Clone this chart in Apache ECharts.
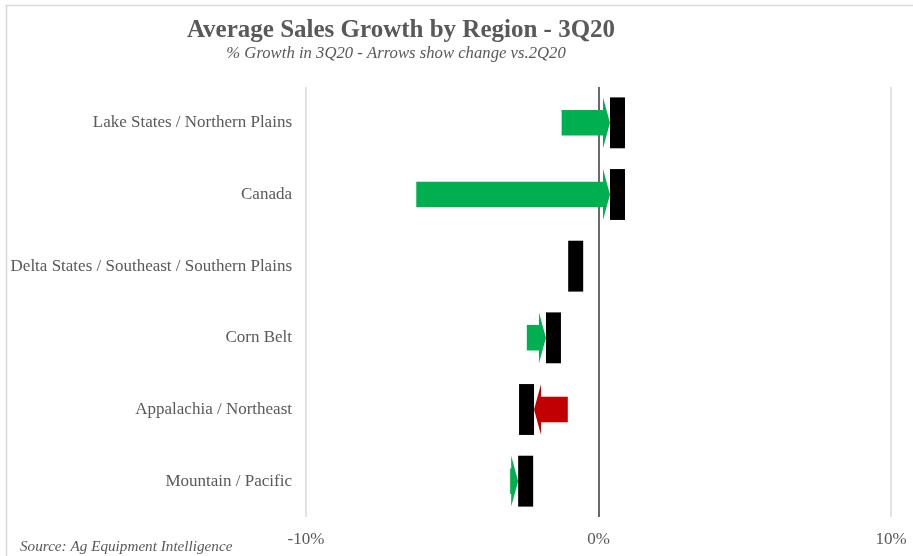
<!DOCTYPE html>
<html>
<head>
<meta charset="utf-8">
<script src="https://cdn.jsdelivr.net/npm/echarts@6/dist/echarts.min.js"></script>
<style>
  html, body { margin: 0; padding: 0; background: #ffffff; }
  #chart { width: 913px; height: 556px; }
</style>
</head>
<body>
<div id="chart"></div>
<script>
// Regions, top to bottom
const regions = [
  'Lake States / Northern Plains',
  'Canada',
  'Delta States / Southeast / Southern Plains',
  'Corn Belt',
  'Appalachia / Northeast',
  'Mountain / Pacific'
];
// Average sales growth, % (2Q20 = arrow tail, 3Q20 = black marker)
const growth2Q20 = [-1.26, -6.23, -0.78, -2.45, -1.05, -3.02];
const growth3Q20 = [0.65, 0.65, -0.78, -1.54, -2.46, -2.49];
// Value axis ticks
const axisMin = -10;
const axisMax = 10;
const axisStep = 10;

const SERIF = "'Liberation Serif', 'Times New Roman', serif";
const TEXT = '#595959';
const UP = '#00b050';
const DOWN = '#c00000';

const chart = echarts.init(document.getElementById('chart'), null, { renderer: 'canvas' });

// One row: arrow from the 2Q20 value towards the 3Q20 marker, then the marker itself
function renderRow(params, api) {
  const idx = api.value(0);
  const prev = api.value(1);
  const curr = api.value(2);
  const y = api.coord([0, idx])[1];
  const band = api.size([0, 1])[1];
  const xPrev = api.coord([prev, idx])[0];
  const xCurr = api.coord([curr, idx])[0];
  const markW = 15;
  const markH = band * 0.71;
  const bodyH = band * 0.355;
  const headLen = 7;
  const children = [];
  if (Math.abs(xCurr - xPrev) > 0.5) {
    const dir = xCurr > xPrev ? 1 : -1;
    const tip = xCurr - dir * markW / 2;
    let base = tip - dir * headLen;
    if ((base - xPrev) * dir < 0) base = xPrev;
    children.push({
      type: 'polygon',
      shape: {
        points: [
          [xPrev, y - bodyH / 2],
          [base, y - bodyH / 2],
          [base, y - markH / 2],
          [tip, y],
          [base, y + markH / 2],
          [base, y + bodyH / 2],
          [xPrev, y + bodyH / 2]
        ]
      },
      style: { fill: dir > 0 ? UP : DOWN }
    });
  }
  children.push({
    type: 'rect',
    shape: { x: xCurr - markW / 2, y: y - markH / 2, width: markW, height: markH },
    style: { fill: '#000000' }
  });
  return { type: 'group', children: children };
}

const rows = regions.map((r, i) => [i, growth2Q20[i], growth3Q20[i]]);

chart.setOption({
  backgroundColor: '#ffffff',
  animation: false,
  grid: { left: 306, right: 22, top: 87, bottom: 39, containLabel: false },
  xAxis: {
    type: 'value',
    min: axisMin,
    max: axisMax,
    interval: axisStep,
    axisLine: { show: false },
    axisTick: { show: false },
    axisLabel: {
      formatter: '{value}%',
      color: TEXT,
      fontFamily: SERIF,
      fontSize: 17,
      margin: 14
    },
    splitLine: { show: true, lineStyle: { color: '#d9d9d9', width: 1.5 } }
  },
  yAxis: {
    type: 'category',
    data: regions,
    inverse: true,
    axisLine: { show: false },
    axisTick: { show: false },
    axisLabel: {
      color: TEXT,
      fontFamily: SERIF,
      fontSize: 17,
      margin: 14,
      padding: [3, 0, 0, 0]
    },
    splitLine: { show: false }
  },
  series: [
    {
      type: 'custom',
      renderItem: renderRow,
      encode: { x: [1, 2], y: 0 },
      data: rows,
      z: 3,
      markLine: {
        silent: true,
        symbol: 'none',
        label: { show: false },
        lineStyle: { color: '#404040', width: 1.5, type: 'solid' },
        data: [{ xAxis: 0 }],
        z: 2
      }
    }
  ],
  graphic: [
    {
      type: 'polyline',
      shape: { points: [[6.5, 600], [6.5, 5.5], [1000, 5.5]] },
      style: { stroke: '#d9d9d9', lineWidth: 1.5, fill: null },
      silent: true
    },
    {
      type: 'text',
      x: 401, y: 31,
      style: {
        text: 'Average Sales Growth by Region - 3Q20',
        fill: TEXT,
        font: "bold 25px " + SERIF,
        textAlign: 'center',
        textVerticalAlign: 'middle'
      }
    },
    {
      type: 'text',
      x: 396, y: 54,
      style: {
        text: '% Growth in 3Q20 - Arrows show change vs.2Q20',
        fill: TEXT,
        font: "italic 16.7px " + SERIF,
        textAlign: 'center',
        textVerticalAlign: 'middle'
      }
    },
    {
      type: 'text',
      x: 20, y: 547,
      style: {
        text: 'Source: Ag Equipment Intelligence',
        fill: TEXT,
        font: "italic 15.2px " + SERIF,
        textAlign: 'left',
        textVerticalAlign: 'middle'
      }
    }
  ]
});
</script>
</body>
</html>
